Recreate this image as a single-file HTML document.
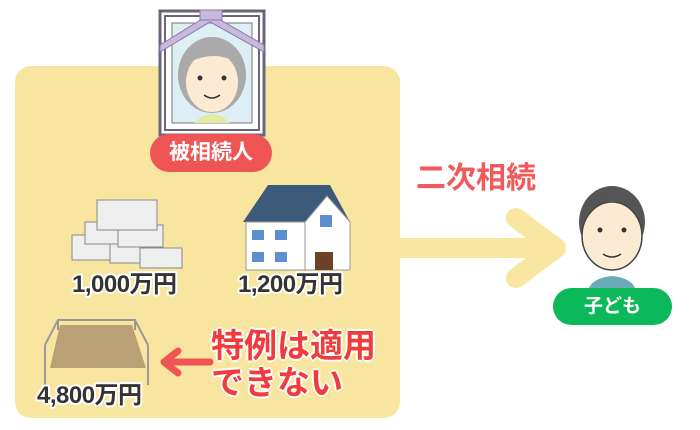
<!DOCTYPE html>
<html><head><meta charset="utf-8"><style>
body{margin:0;width:700px;height:430px;background:#fff;position:relative;overflow:hidden;font-family:"Liberation Sans","Noto Sans CJK JP",sans-serif}
.a{position:absolute}
.amt{position:absolute;font-weight:bold;font-size:24px;letter-spacing:-0.5px;color:#333;text-shadow:2px 0 #fff,-2px 0 #fff,0 2px #fff,0 -2px #fff,1.5px 1.5px #fff,-1.5px -1.5px #fff,1.5px -1.5px #fff,-1.5px 1.5px #fff;white-space:nowrap}
</style></head><body>
<div class="a" style="left:15px;top:66px;width:385px;height:352px;background:#f8e6a0;border-radius:16px"></div>
<svg class="a" style="left:0;top:0" width="700" height="430">
<rect x="398" y="238" width="150" height="20" fill="#f8e6a0"/>
<polyline points="516,218 556,248 516,278" fill="none" stroke="#f8e6a0" stroke-width="20" stroke-linecap="round" stroke-linejoin="round"/>
<rect x="160" y="11" width="104" height="124" fill="#fff" stroke="#6a6478" stroke-width="3"/>
<rect x="165" y="16" width="94" height="114" fill="none" stroke="#6a6478" stroke-width="2"/>
<rect x="172" y="23" width="80" height="100" fill="#ddeef4" stroke="#777" stroke-width="1"/>
<path d="M160 45 L210 14 L264 45 L264 52 L210 22 L160 52Z" fill="#c7b8dc" stroke="#8a7aa8"/>
<rect x="200" y="10" width="22" height="10" fill="#c7b8dc" stroke="#8a7aa8"/>
<ellipse cx="212" cy="75" rx="34" ry="38" fill="#aaa"/>
<ellipse cx="212" cy="82" rx="26" ry="30" fill="#fcebd3"/>
<path d="M190 62 Q212 42 236 62 Q214 50 190 62Z" fill="#aaa"/>
<circle cx="200" cy="78" r="2.5" fill="#333"/><circle cx="224" cy="78" r="2.5" fill="#333"/>
<path d="M204 95 Q212 101 220 95" fill="none" stroke="#333" stroke-width="1.5"/>
<path d="M194 123 Q212 105 230 123Z" fill="#e3eaa4"/>
<g fill="#eee" stroke="#888" stroke-width="1">
<rect x="72" y="235" width="40" height="25"/><rect x="110" y="238" width="45" height="25"/><rect x="140" y="248" width="42" height="20"/>
<rect x="85" y="222" width="40" height="22"/><rect x="118" y="225" width="45" height="22"/>
<rect x="97" y="200" width="60" height="30"/>
</g>
<path d="M243 222 L268 185 L330 185 L350 222Z" fill="#3c5a7a"/>
<rect x="246" y="222" width="60" height="48" fill="#fff" stroke="#999"/>
<path d="M305 222 L327 196 L350 222 L350 270 L305 270Z" fill="#fff" stroke="#999"/>
<rect x="252" y="230" width="12" height="10" fill="#5c8fd0"/><rect x="275" y="230" width="12" height="10" fill="#5c8fd0"/>
<rect x="252" y="252" width="12" height="10" fill="#5c8fd0"/><rect x="275" y="252" width="12" height="10" fill="#5c8fd0"/>
<rect x="320" y="215" width="12" height="12" fill="#5c8fd0"/>
<rect x="315" y="252" width="18" height="18" fill="#6b4226"/>
<path d="M50 368 L60 325 L132 325 L146 368Z" fill="#b9a075"/>
<path d="M45 345 L58 320 L135 320 L148 345 M45 345 L45 385 M148 345 L148 385 M58 320 L58 330 M135 320 L135 330" fill="none" stroke="#999" stroke-width="2"/>
<line x1="210" y1="362" x2="170" y2="362" stroke="#f05555" stroke-width="7" stroke-linecap="round"/>
<polyline points="178,351 164,362 178,373" fill="none" stroke="#f05555" stroke-width="7" stroke-linecap="round" stroke-linejoin="round"/>
<ellipse cx="612" cy="222" rx="33" ry="36" fill="#555"/>
<ellipse cx="612" cy="236" rx="30" ry="34" fill="#fcebd3" stroke="#444" stroke-width="1.5"/>
<path d="M584 220 Q590 190 612 192 Q636 190 640 220 Q630 200 612 202 Q594 200 584 220Z" fill="#555"/>
<circle cx="600" cy="230" r="2.5" fill="#333"/><circle cx="624" cy="230" r="2.5" fill="#333"/>
<path d="M603 254 Q612 260 621 254" fill="none" stroke="#333" stroke-width="1.5"/>
<path d="M588 290 Q592 278 612 276 Q632 278 636 290Z" fill="#6aaab8"/>
<rect x="150" y="134" width="122" height="38" rx="19" fill="#f05555"/>
<rect x="553" y="288" width="119" height="37" rx="18.5" fill="#0cb95a"/>
</svg>
<div class="a" style="left:150px;top:134px;width:122px;line-height:38px;text-align:center;color:#fff;font-weight:bold;font-size:21px">被相続人</div>
<div class="a" style="left:553px;top:288px;width:119px;line-height:37px;text-align:center;color:#fff;font-weight:bold;font-size:19px">子ども</div>
<div class="a" style="left:416px;top:160px;color:#f05a5a;font-weight:bold;font-size:30px;line-height:38px">二次相続</div>
<div class="amt" style="left:72px;top:264px">1,000万円</div>
<div class="amt" style="left:238px;top:264px">1,200万円</div>
<div class="amt" style="left:37px;top:375px">4,800万円</div>
<div class="a" style="left:211px;top:327px;color:#f03c3c;font-weight:bold;font-size:33px;line-height:37px;text-shadow:2px 0 #fff,-2px 0 #fff,0 2px #fff,0 -2px #fff">特例は適用<br>できない</div>
</body></html>
